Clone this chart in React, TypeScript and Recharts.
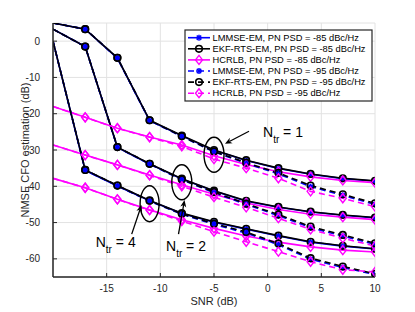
import React from 'react';
import { LineChart, Line, XAxis, YAxis, CartesianGrid, ReferenceDot } from 'recharts';

// SNR (dB) sample points
const snr = [-20, -17, -14, -11, -8, -5, -2, 1, 4, 7, 10];

// N_tr = 1
const lmmse85N1 = [5, 3.3, -4.7, -21.9, -26.1, -30.1, -32.9, -35.1, -36.7, -37.9, -38.6];
const ekf85N1 = [5, 3.3, -4.6, -21.8, -26.0, -30.0, -32.8, -35.0, -36.6, -37.8, -38.5];
const hcrlb85N1 = [-18.0, -21.0, -24.0, -26.4, -28.6, -31.6, -34.0, -36.0, -37.4, -38.4, -39.0];
const lmmse95N1 = [5, 3.3, -4.7, -21.9, -26.3, -30.5, -33.7, -36.6, -40.1, -42.5, -45.0];
const ekf95N1 = [5, 3.3, -4.6, -21.8, -26.2, -30.4, -33.5, -36.3, -39.8, -42.2, -44.7];
const hcrlb95N1 = [-18.0, -21.0, -24.0, -26.5, -29.0, -32.5, -35.0, -37.8, -41.4, -43.3, -45.6];

// N_tr = 2
const lmmse85N2 = [3.3, -1.5, -29.3, -33.9, -38.0, -41.3, -44.1, -45.8, -47.1, -48.0, -48.7];
const ekf85N2 = [3.3, -1.5, -29.2, -33.8, -37.9, -41.2, -44.0, -45.7, -47.0, -47.9, -48.6];
const hcrlb85N2 = [-28.6, -31.4, -34.1, -36.9, -39.6, -42.2, -44.6, -46.4, -47.7, -48.5, -49.2];
const lmmse95N2 = [3.3, -1.5, -29.3, -33.9, -38.2, -41.8, -45.0, -48.1, -51.4, -53.7, -56.0];
const ekf95N2 = [3.3, -1.5, -29.2, -33.8, -38.1, -41.6, -44.8, -47.8, -51.1, -53.4, -55.7];
const hcrlb95N2 = [-28.6, -31.4, -34.1, -37.0, -40.0, -43.0, -45.8, -48.8, -51.9, -54.3, -56.5];

// N_tr = 4
const lmmse85N4 = [0, -35.6, -39.9, -44.0, -47.5, -49.9, -51.8, -53.7, -55.4, -56.5, -57.3];
const ekf85N4 = [0, -35.5, -39.8, -43.9, -47.4, -49.8, -51.7, -53.6, -55.3, -56.4, -57.2];
const hcrlb85N4 = [-37.8, -40.4, -43.6, -46.5, -49.2, -51.6, -53.7, -55.4, -56.7, -57.6, -58.1];
const lmmse95N4 = [0, -35.6, -39.9, -44.1, -47.7, -50.5, -52.9, -56.1, -60.1, -62.4, -64.3];
const ekf95N4 = [0, -35.5, -39.8, -44.0, -47.6, -50.3, -52.6, -55.8, -59.8, -62.1, -64.1];
const hcrlb95N4 = [-37.8, -40.4, -43.6, -46.6, -49.6, -52.5, -55.3, -58.0, -60.8, -63.0, -63.6];

const xTicks = [-15, -10, -5, 0, 5, 10];
const yTicks = [-60, -50, -40, -30, -20, -10, 0];

const legendLabels = [
  'LMMSE-EM, PN PSD = -85 dBc/Hz',
  'EKF-RTS-EM, PN PSD = -85 dBc/Hz',
  'HCRLB, PN PSD = -85 dBc/Hz',
  'LMMSE-EM, PN PSD = -95 dBc/Hz',
  'EKF-RTS-EM, PN PSD = -95 dBc/Hz',
  'HCRLB, PN PSD = -95 dBc/Hz',
];

type Method = 'lmmse' | 'ekf' | 'hcrlb';
const methodStyle: Record<Method, { color: string }> = {
  lmmse: { color: '#0000ff' },
  ekf: { color: '#000000' },
  hcrlb: { color: '#ff00ff' },
};

const seriesDefs: { key: string; values: number[]; method: Method; dashed: boolean }[] = [
  { key: 'lmmse85N1', values: lmmse85N1, method: 'lmmse', dashed: false },
  { key: 'lmmse85N2', values: lmmse85N2, method: 'lmmse', dashed: false },
  { key: 'lmmse85N4', values: lmmse85N4, method: 'lmmse', dashed: false },
  { key: 'ekf85N1', values: ekf85N1, method: 'ekf', dashed: false },
  { key: 'ekf85N2', values: ekf85N2, method: 'ekf', dashed: false },
  { key: 'ekf85N4', values: ekf85N4, method: 'ekf', dashed: false },
  { key: 'hcrlb85N1', values: hcrlb85N1, method: 'hcrlb', dashed: false },
  { key: 'hcrlb85N2', values: hcrlb85N2, method: 'hcrlb', dashed: false },
  { key: 'hcrlb85N4', values: hcrlb85N4, method: 'hcrlb', dashed: false },
  { key: 'lmmse95N1', values: lmmse95N1, method: 'lmmse', dashed: true },
  { key: 'lmmse95N2', values: lmmse95N2, method: 'lmmse', dashed: true },
  { key: 'lmmse95N4', values: lmmse95N4, method: 'lmmse', dashed: true },
  { key: 'ekf95N1', values: ekf95N1, method: 'ekf', dashed: true },
  { key: 'ekf95N2', values: ekf95N2, method: 'ekf', dashed: true },
  { key: 'ekf95N4', values: ekf95N4, method: 'ekf', dashed: true },
  { key: 'hcrlb95N1', values: hcrlb95N1, method: 'hcrlb', dashed: true },
  { key: 'hcrlb95N2', values: hcrlb95N2, method: 'hcrlb', dashed: true },
  { key: 'hcrlb95N4', values: hcrlb95N4, method: 'hcrlb', dashed: true },
];

const legendDefs: { method: Method; dashed: boolean }[] = [
  { method: 'lmmse', dashed: false },
  { method: 'ekf', dashed: false },
  { method: 'hcrlb', dashed: false },
  { method: 'lmmse', dashed: true },
  { method: 'ekf', dashed: true },
  { method: 'hcrlb', dashed: true },
];

const data = snr.map((s, i) => {
  const row: Record<string, number> = { snr: s };
  seriesDefs.forEach((d) => {
    row[d.key] = d.values[i];
  });
  return row;
});

const AXIS = '#262626';
const FONT = '"Liberation Sans", Arial, Helvetica, sans-serif';
const DASH = '6 4';

function Marker({ method, cx, cy }: { method: Method; cx: number; cy: number }) {
  const color = methodStyle[method].color;
  if (method === 'lmmse') {
    const r = 3;
    const d = 2.2;
    return (
      <g stroke={color} strokeWidth={1.5}>
        <line x1={cx - r} y1={cy} x2={cx + r} y2={cy} />
        <line x1={cx} y1={cy - r} x2={cx} y2={cy + r} />
        <line x1={cx - d} y1={cy - d} x2={cx + d} y2={cy + d} />
        <line x1={cx - d} y1={cy + d} x2={cx + d} y2={cy - d} />
      </g>
    );
  }
  if (method === 'ekf') {
    return <circle cx={cx} cy={cy} r={3.3} fill="none" stroke={color} strokeWidth={1.6} />;
  }
  return (
    <polygon
      points={`${cx},${cy - 4.5} ${cx + 3.5},${cy} ${cx},${cy + 4.5} ${cx - 3.5},${cy}`}
      fill="none"
      stroke={color}
      strokeWidth={1.4}
    />
  );
}

const YTickLeft = (props: any) => {
  const { x, y, payload } = props;
  return (
    <g>
      <line x1={x} y1={y} x2={x + 4} y2={y} stroke={AXIS} strokeWidth={1} />
      <text x={x - 13} y={y} dy="0.35em" textAnchor="end" fontSize={10} fill={AXIS} fontFamily={FONT}>
        {payload.value}
      </text>
    </g>
  );
};

const XTickBottom = (props: any) => {
  const { x, y, payload } = props;
  return (
    <g>
      <line x1={x} y1={y} x2={x} y2={y - 4} stroke={AXIS} strokeWidth={1} />
      <text x={x} y={y + 15} textAnchor="middle" fontSize={10} fill={AXIS} fontFamily={FONT}>
        {payload.value}
      </text>
    </g>
  );
};

const XTickTop = (props: any) => {
  const { x, y } = props;
  return <line x1={x} y1={y} x2={x} y2={y + 4} stroke={AXIS} strokeWidth={1} />;
};

const YTickRight = (props: any) => {
  const { x, y } = props;
  return <line x1={x} y1={y} x2={x - 4} y2={y} stroke={AXIS} strokeWidth={1} />;
};

function Arrow({ x1, y1, x2, y2 }: { x1: number; y1: number; x2: number; y2: number }) {
  const dx = x2 - x1;
  const dy = y2 - y1;
  const L = Math.hypot(dx, dy);
  const ux = dx / L;
  const uy = dy / L;
  const hl = 7;
  const hw = 3;
  const bx = x2 - ux * hl;
  const by = y2 - uy * hl;
  const px = -uy;
  const py = ux;
  const nx = x2 - ux * hl * 0.7;
  const ny = y2 - uy * hl * 0.7;
  return (
    <g>
      <line x1={x1} y1={y1} x2={nx} y2={ny} stroke="#000" strokeWidth={1.3} />
      <polygon
        points={`${x2},${y2} ${bx + px * hw},${by + py * hw} ${nx},${ny} ${bx - px * hw},${by - py * hw}`}
        fill="#000"
      />
    </g>
  );
}

const annotations = [
  { label: '1', x: -5, y: -31.3, rx: 10, ry: 17.5, tail: [35, -23.5], tip: [11, -11], text: [49, -17.5] },
  { label: '2', x: -8, y: -38.9, rx: 10, ry: 17.5, tail: [-3.3, 51.8], tip: [2.7, 17.8], text: [-15.8, 68.8] },
  { label: '4', x: -11, y: -44.8, rx: 9.5, ry: 18, tail: [-17.9, 30.4], tip: [-8.1, 1.4], text: [-53.9, 43.7] },
];

function Annotation({ cx, cy, a }: { cx: number; cy: number; a: (typeof annotations)[number] }) {
  return (
    <g>
      <ellipse cx={cx} cy={cy} rx={a.rx} ry={a.ry} fill="none" stroke="#000" strokeWidth={1.4} />
      <Arrow x1={cx + a.tail[0]} y1={cy + a.tail[1]} x2={cx + a.tip[0]} y2={cy + a.tip[1]} />
      <text x={cx + a.text[0]} y={cy + a.text[1]} fontSize={14} fill="#000" fontFamily={FONT}>
        N
        <tspan fontSize={10} dy={6}>
          tr
        </tspan>
        <tspan fontSize={14} dy={-6}>
          {` = ${a.label}`}
        </tspan>
      </text>
    </g>
  );
}

export default function App() {
  const W = 400;
  const H = 300;
  const legendX = 177;
  const legendY = 22;
  const rowH = 11.1;
  return (
    <div style={{ position: 'relative', width: W, height: H }}>
      <LineChart width={W} height={H} data={data} margin={{ top: 15, right: 33, bottom: 11, left: 5 }}>
        <CartesianGrid xAxisId="b" yAxisId="l" stroke="#e2e2e2" strokeWidth={1} />
        <XAxis
          xAxisId="b"
          dataKey="snr"
          type="number"
          domain={[-20, 10]}
          ticks={xTicks}
          allowDataOverflow
          interval={0}
          height={20}
          tickSize={0}
          tickMargin={0}
          tickLine={false}
          axisLine={{ stroke: AXIS, strokeWidth: 1.5 }}
          tick={(p: any) => <XTickBottom {...p} />}
        />
        <XAxis
          xAxisId="t"
          orientation="top"
          dataKey="snr"
          type="number"
          domain={[-20, 10]}
          ticks={xTicks}
          allowDataOverflow
          interval={0}
          height={0}
          tickSize={0}
          tickMargin={0}
          tickLine={false}
          axisLine={{ stroke: AXIS, strokeWidth: 1.5 }}
          tick={(p: any) => <XTickTop {...p} />}
        />
        <YAxis
          yAxisId="l"
          type="number"
          domain={[-65, 5]}
          ticks={yTicks}
          allowDataOverflow
          interval={0}
          width={40}
          tickSize={0}
          tickMargin={0}
          tickLine={false}
          axisLine={{ stroke: AXIS, strokeWidth: 1.5 }}
          tick={(p: any) => <YTickLeft {...p} />}
        />
        <YAxis
          yAxisId="r"
          orientation="right"
          type="number"
          domain={[-65, 5]}
          ticks={yTicks}
          allowDataOverflow
          interval={0}
          width={0}
          tickSize={0}
          tickMargin={0}
          tickLine={false}
          axisLine={{ stroke: AXIS, strokeWidth: 1.5 }}
          tick={(p: any) => <YTickRight {...p} />}
        />
        {seriesDefs.map((s) => (
          <Line
            key={s.key}
            xAxisId="b"
            yAxisId="l"
            type="linear"
            dataKey={s.key}
            stroke={methodStyle[s.method].color}
            strokeWidth={1.6}
            strokeDasharray={s.dashed ? DASH : undefined}
            isAnimationActive={false}
            activeDot={false}
            dot={(p: any) =>
              p.index === 0 ? (
                <g key={`${s.key}-${p.index}`} />
              ) : (
                <g key={`${s.key}-${p.index}`}>
                  <Marker method={s.method} cx={p.cx} cy={p.cy} />
                </g>
              )
            }
          />
        ))}
        {annotations.map((a) => (
          <ReferenceDot
            key={a.label}
            xAxisId="b"
            yAxisId="l"
            x={a.x}
            y={a.y}
            r={1}
            ifOverflow="visible"
            shape={(p: any) => <Annotation cx={p.cx} cy={p.cy} a={a} />}
          />
        ))}
      </LineChart>
      <svg
        width={W}
        height={H}
        style={{ position: 'absolute', left: 0, top: 0, pointerEvents: 'none' }}
      >
        <text x={206} y={297} textAnchor="middle" fontSize={11} fill={AXIS} fontFamily={FONT}>
          SNR (dB)
        </text>
        <text
          x={17}
          y={142}
          textAnchor="middle"
          dominantBaseline="central"
          fontSize={11}
          fill={AXIS}
          fontFamily={FONT}
          transform="rotate(-90 17 142)"
        >
          NMSE CFO estimation (dB)
        </text>
        <rect x={legendX} y={legendY} width={187} height={71} fill="#fff" stroke={AXIS} strokeWidth={1.2} />
        {legendDefs.map((l, i) => {
          const cy = legendY + 7.7 + i * rowH;
          const color = methodStyle[l.method].color;
          return (
            <g key={i}>
              <line
                x1={legendX + 3}
                y1={cy}
                x2={legendX + 25}
                y2={cy}
                stroke={color}
                strokeWidth={1.6}
                strokeDasharray={l.dashed ? DASH : undefined}
              />
              <Marker method={l.method} cx={legendX + 14} cy={cy} />
              <text x={legendX + 27.5} y={cy} dy="0.35em" fontSize={9.3} fill="#000" fontFamily={FONT}>
                {legendLabels[i]}
              </text>
            </g>
          );
        })}
      </svg>
    </div>
  );
}
